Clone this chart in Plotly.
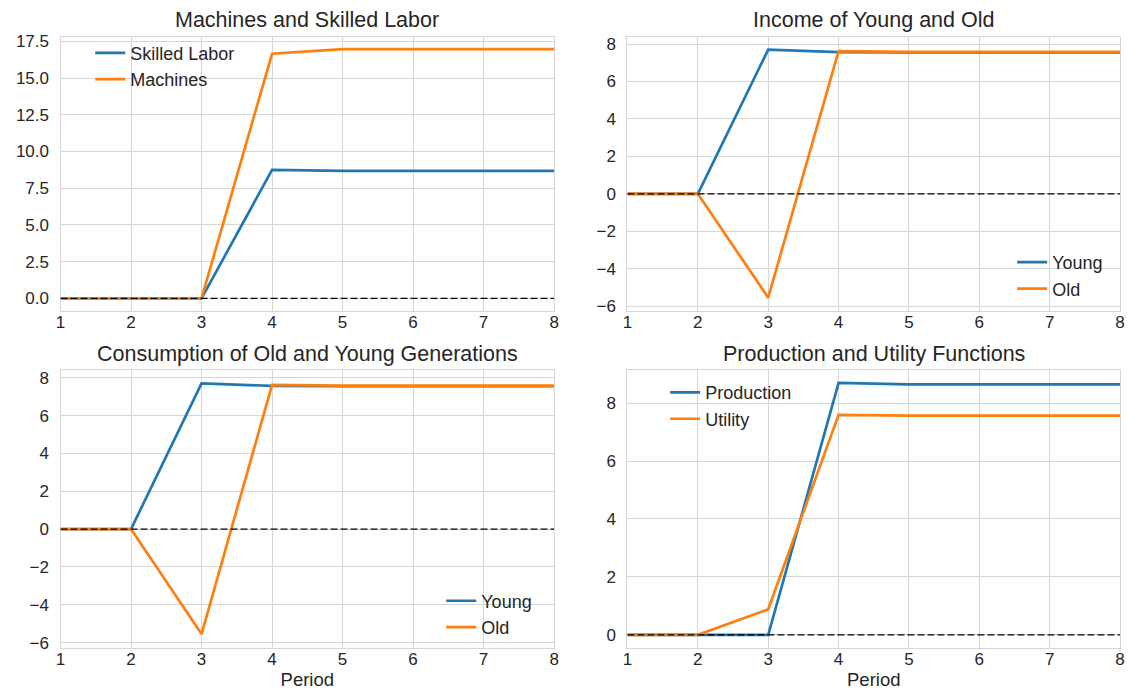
import plotly.graph_objects as go
from plotly.subplots import make_subplots

period = [1, 2, 3, 4, 5, 6, 7, 8]

skilled_labor = [0, 0, 0, 8.75, 8.68, 8.68, 8.68, 8.68]
machines = [0, 0, 0, 16.65, 16.97, 16.97, 16.97, 16.97]

income_young = [0, 0, 7.70, 7.57, 7.55, 7.55, 7.55, 7.55]
income_old = [0, 0, -5.55, 7.62, 7.58, 7.58, 7.58, 7.58]

cons_young = [0, 0, 7.70, 7.57, 7.55, 7.55, 7.55, 7.55]
cons_old = [0, 0, -5.55, 7.62, 7.58, 7.58, 7.58, 7.58]

production = [0, 0, 0, 8.70, 8.65, 8.65, 8.65, 8.65]
utility = [0, 0, 0.88, 7.60, 7.57, 7.57, 7.57, 7.57]

titles = ["Machines and Skilled Labor", "Income of Young and Old",
          "Consumption of Old and Young Generations", "Production and Utility Functions"]

BLUE = "#1f77b4"
ORANGE = "#ff7f0e"
FONT = "Liberation Sans, Arial, sans-serif"
TXT = "#262626"
GRID = "#d6d6d6"

W, H = 1134, 694
fig = make_subplots(rows=2, cols=2)

panels = [
    (1, 1, [("Skilled Labor", skilled_labor, BLUE), ("Machines", machines, ORANGE)], "legend"),
    (1, 2, [("Young", income_young, BLUE), ("Old", income_old, ORANGE)], "legend2"),
    (2, 1, [("Young", cons_young, BLUE), ("Old", cons_old, ORANGE)], "legend3"),
    (2, 2, [("Production", production, BLUE), ("Utility", utility, ORANGE)], "legend4"),
]

for r, c, series, leg in panels:
    for name, vals, col in series:
        fig.add_trace(go.Scatter(x=period, y=vals, mode="lines", name=name,
                                 line=dict(color=col, width=2.7),
                                 legend=leg, legendgroup=leg + name),
                      row=r, col=c)
    fig.add_hline(y=0, line=dict(color="black", width=1.3, dash="7px,3px"),
                  layer="above", row=r, col=c)

# domains in pixels
xl = (56 / W, 554 / W)
xr = (628 / W, 1125 / W)
yt = (1 - 311 / H, 1 - 33 / H)
yb = (1 - 652 / H, 1 - 371 / H)

axes_cfg = [
    ("xaxis", "yaxis", xl, yt, [-0.85, 17.82], [0, 2.5, 5, 7.5, 10, 12.5, 15, 17.5], ".1f", False),
    ("xaxis2", "yaxis2", xr, yt, [-6.26, 8.4], [-6, -4, -2, 0, 2, 4, 6, 8], "d", False),
    ("xaxis3", "yaxis3", xl, yb, [-6.26, 8.4], [-6, -4, -2, 0, 2, 4, 6, 8], "d", True),
    ("xaxis4", "yaxis4", xr, yb, [-0.44, 9.14], [0, 2, 4, 6, 8], "d", True),
]

common = dict(showgrid=True, gridcolor=GRID, gridwidth=1, showline=True, mirror=True,
              linecolor=GRID, linewidth=1.2, zeroline=False, ticks="",
              tickfont=dict(family=FONT, size=17, color=TXT))

for xa, ya, xd, yd, yr, yt_vals, fmt, xtitle in axes_cfg:
    fig.layout[xa].update(domain=list(xd), range=[1, 8], tickvals=period,
                          ticklabelstandoff=-4, **common)
    if xtitle:
        fig.layout[xa].update(title=dict(text="Period", font=dict(family=FONT, size=18.5, color=TXT),
                                         standoff=5))
    fig.layout[ya].update(domain=list(yd), range=yr, tickvals=yt_vals, tickformat=fmt,
                          ticklabelstandoff=7, **common)

# subplot titles
title_pos = [((xl[0] + xl[1]) / 2, 1 - 16 / H), ((xr[0] + xr[1]) / 2, 1 - 16 / H),
             ((xl[0] + xl[1]) / 2, 1 - 355 / H), ((xr[0] + xr[1]) / 2, 1 - 355 / H)]
for t, (x, y) in zip(titles, title_pos):
    fig.add_annotation(text=t, x=x, y=y, xref="paper", yref="paper", showarrow=False,
                       xanchor="center", yanchor="middle",
                       font=dict(family=FONT, size=21.5, color=TXT))

legfont = dict(family=FONT, size=18, color=TXT)
legcommon = dict(font=legfont, bgcolor="rgba(0,0,0,0)", borderwidth=0,
                 tracegroupgap=0, traceorder="grouped", itemwidth=30)
fig.update_layout(
    legend=dict(x=86 / W, y=1 - 31 / H, xanchor="left", yanchor="top", **legcommon),
    legend2=dict(x=1113 / W, y=1 - 307 / H, xanchor="right", yanchor="bottom", **legcommon),
    legend3=dict(x=537 / W, y=1 - 650 / H, xanchor="right", yanchor="bottom", **legcommon),
    legend4=dict(x=666 / W, y=1 - 375 / H, xanchor="left", yanchor="top", **legcommon),
)

fig.update_layout(width=W, height=H, margin=dict(l=0, r=0, t=0, b=0),
                  plot_bgcolor="white", paper_bgcolor="white", showlegend=True,
                  font=dict(family=FONT, color=TXT))

fig.write_html("out.html", config={"displayModeBar": False},
               post_script="document.body.style.margin='0px';")
